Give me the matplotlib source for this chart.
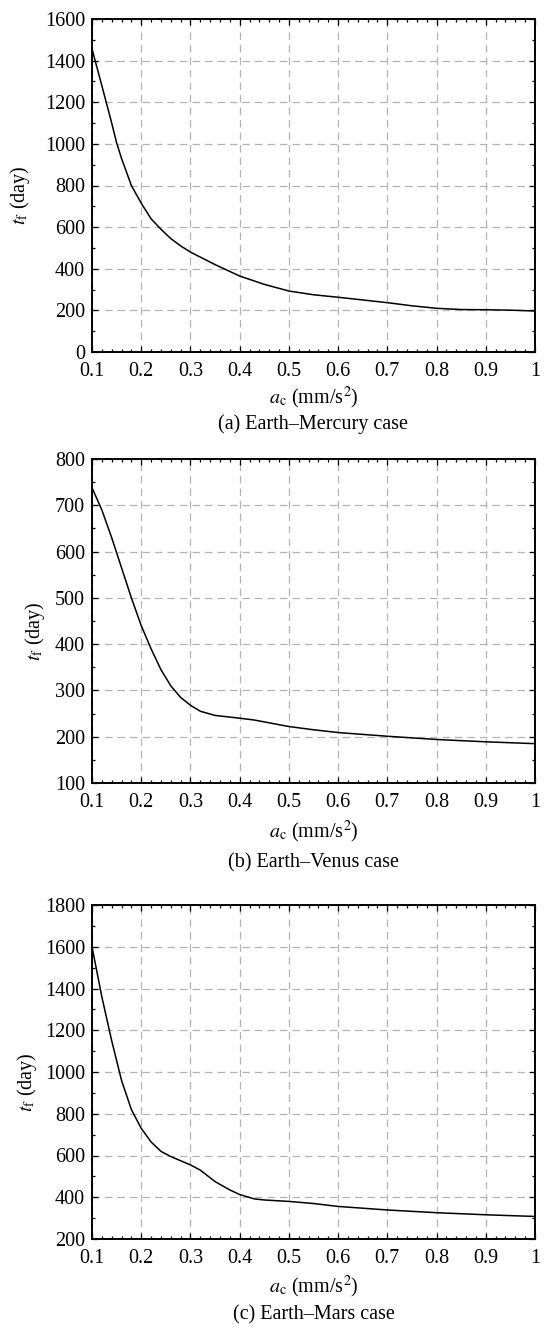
import matplotlib
matplotlib.use('Agg')
import matplotlib.pyplot as plt
from matplotlib.ticker import MultipleLocator

plt.rcParams['font.family'] = ['Liberation Serif', 'DejaVu Serif']
plt.rcParams['mathtext.fontset'] = 'stix'
plt.rcParams['font.size'] = 14.5

# acceleration a_c (mm/s^2) and flight time t_f (day)
ac_mercury = [0.1, 0.12, 0.14, 0.15, 0.16, 0.18, 0.2, 0.22, 0.24, 0.26, 0.28,
              0.3, 0.35, 0.4, 0.45, 0.5, 0.55, 0.6, 0.65, 0.7, 0.75, 0.8,
              0.85, 0.9, 0.95, 1.0]
tf_mercury = [1456, 1280, 1100, 1005, 930, 800, 715, 640, 590, 545, 510,
              480, 420, 365, 325, 293, 275, 263, 250, 237, 222, 210,
              204, 203, 201, 197]

ac_venus = [0.1, 0.12, 0.14, 0.16, 0.18, 0.2, 0.22, 0.24, 0.26, 0.28, 0.3,
            0.32, 0.35, 0.4, 0.43, 0.45, 0.5, 0.55, 0.6, 0.7, 0.8, 0.9, 1.0]
tf_venus = [738, 690, 630, 565, 500, 440, 390, 345, 310, 285, 268,
            255, 246, 240, 236, 232, 222, 215, 209, 201, 194, 189, 185]

ac_mars = [0.1, 0.12, 0.14, 0.16, 0.18, 0.2, 0.22, 0.24, 0.26, 0.28, 0.3,
           0.32, 0.35, 0.38, 0.4, 0.43, 0.45, 0.5, 0.55, 0.6, 0.7, 0.8,
           0.9, 1.0]
tf_mars = [1600, 1360, 1150, 960, 820, 730, 665, 620, 595, 575, 555,
           530, 475, 435, 413, 392, 387, 380, 370, 356, 339, 326,
           316, 308]

xticks = [0.1, 0.2, 0.3, 0.4, 0.5, 0.6, 0.7, 0.8, 0.9, 1.0]
xticklabels = ['0.1', '0.2', '0.3', '0.4', '0.5', '0.6', '0.7', '0.8', '0.9', '1']

panels = [
    (ac_mercury, tf_mercury, (0, 1600), 200, 100, "(a) Earth\u2013Mercury case"),
    (ac_venus, tf_venus, (100, 800), 100, 50, "(b) Earth\u2013Venus case"),
    (ac_mars, tf_mars, (200, 1800), 200, 100, "(c) Earth\u2013Mars case"),
]

W, H = 544, 1332
left, right = 92, 535
# (top, bottom) of each axes box in pixels, caption centre, y-label x centre
boxes = [(19, 352), (459, 783), (905, 1239)]
caption_y = [424, 863, 1315]
ylabel_x = [20, 35, 27]
xlabel_y = [398, 832, 1287]

fig = plt.figure(figsize=(W / 100, H / 100), dpi=100)

for (x, y, ylim, ymaj, ymin, cap), (top, bot), cy, lx, xly in zip(
        panels, boxes, caption_y, ylabel_x, xlabel_y):
    ax = fig.add_axes([left / W, 1 - bot / H, (right - left) / W, (bot - top) / H])
    ax.plot(x, y, color='black', lw=1.1)
    ax.set_xlim(0.1, 1.0)
    ax.set_ylim(*ylim)
    ax.set_xticks(xticks)
    ax.set_xticklabels(xticklabels)
    ax.xaxis.set_minor_locator(MultipleLocator(0.02))
    ax.yaxis.set_major_locator(MultipleLocator(ymaj))
    ax.yaxis.set_minor_locator(MultipleLocator(ymin))
    ax.tick_params(which='both', direction='in', top=True, right=True)
    ax.tick_params(which='major', length=4, width=0.9)
    ax.tick_params(which='minor', length=2.5, width=0.9)
    ax.tick_params(axis='x', pad=7)
    ax.tick_params(axis='y', pad=5)
    ax.grid(True, which='major', linestyle=(0, (6, 4)), color='#b4b4b4', lw=0.9)
    for s in ax.spines.values():
        s.set_linewidth(1.4)

    ax.set_xlabel(r'$a_\mathrm{c}$ (mm/s$^2$)', va='center')
    ax.xaxis.set_label_coords(0.5, (bot - xly) / (bot - top))
    ax.set_ylabel(r'$t_\mathrm{f}$ (day)', va='center')
    ax.yaxis.set_label_coords((lx - left) / (right - left), 0.47)

    fig.text((left + right) / 2 / W, 1 - cy / H, cap, ha='center', va='center')

fig.savefig('out.png', dpi=100)
